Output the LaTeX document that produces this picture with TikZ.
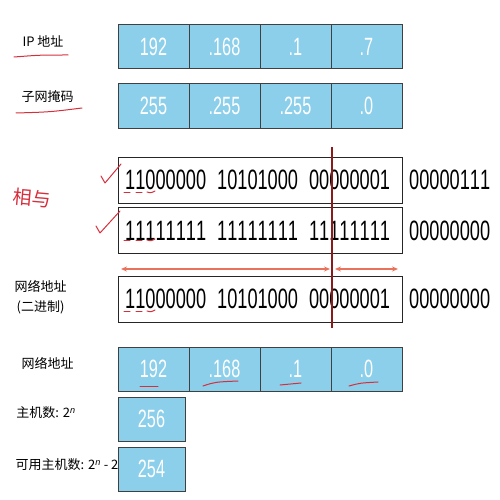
\documentclass[tikz,border=0pt]{standalone}
\usepackage{fontspec}
\setmainfont{Liberation Sans}
\newfontfamily\cjk{Noto Sans CJK SC}
\newfontfamily\narrowdigits[FakeStretch=0.65,Kerning=Off]{Liberation Sans}
\usetikzlibrary{arrows.meta}

\definecolor{cellblue}{HTML}{8BCFEB}
\definecolor{penred}{HTML}{D62F3C}
\definecolor{cutred}{HTML}{8B1A1A}
\definecolor{arrowred}{HTML}{E8735A}

\tikzset{
  cell/.style={draw=black!75, line width=1pt, fill=cellblue, minimum width=71pt, minimum height=44pt,
    inner sep=0pt, text=white, font=\narrowdigits\fontsize{25}{25}\selectfont},
  bitbox/.style={draw=black!85, line width=0.8pt, fill=white, minimum width=284pt, minimum height=46pt,
    inner sep=0pt, anchor=west},
  bits/.style={font=\narrowdigits\fontsize{28}{28}\selectfont, anchor=west, inner sep=0pt},
  lbl/.style={font=\cjk\fontsize{13}{13}\selectfont, inner sep=0pt},
  pen/.style={draw=penred, line width=1pt, line cap=round, line join=round},
  span/.style={draw=arrowred, line width=1.2pt, {Stealth[length=6pt,width=5pt]}-{Stealth[length=6pt,width=5pt]}}
}

\newcommand{\gap}{\hspace{11pt}}

\begin{document}
\begin{tikzpicture}[x=1pt,y=-1pt]
\useasboundingbox (0,0) rectangle (500,500);

\node[lbl] (iplbl) at (43,41) {IP 地址};
\node[lbl] (masklbl) at (47.5,97) {子网掩码};
\foreach \v [count=\i] in {192,.168,.1,.7} \node[cell] (ip\i) at (82.5+71*\i,47) {\v};
\foreach \v [count=\i] in {255,.255,.255,.0} \node[cell] (mask\i) at (82.5+71*\i,106) {\v};

\node[bitbox] (ipbits) at (118,180) {};
\node[bitbox] (maskbits) at (118,230.5) {};
\node[bitbox] (netbits) at (118,299) {};
\node[bits] (ipb) at (125,180) {11000000\gap10101000\gap00000001};
\node[bits] (maskb) at (125,230.5) {11111111\gap11111111\gap11111111};
\node[bits] (netb) at (125,299) {11000000\gap10101000\gap00000001};
\node[bits] (iphost) at (409,180) {00000111};
\node[bits] (maskhost) at (409,230.5) {00000000};
\node[bits] (nethost) at (409,299) {00000000};
\node[lbl, align=center, font=\cjk\fontsize{13}{20}\selectfont] (netlbl) at (40.5,297) {网络地址\\(二进制)};

\coordinate (netl) at (121,269); \coordinate (netr) at (330,269);
\coordinate (hostl) at (335,269); \coordinate (hostr) at (398,269);
\draw[span] (netl) -- (netr);
\draw[span] (hostl) -- (hostr);
\coordinate (cuttop) at (332,147); \coordinate (cutbot) at (332,328);
\draw[cutred, line width=1.5pt] (cuttop) -- (cutbot);

\node[lbl] (netaddrlbl) at (47.5,363) {网络地址};
\foreach \v [count=\i] in {192,.168,.1,.0} \node[cell] (net\i) at (82.5+71*\i,369) {\v};
\node[lbl] (hostlbl) at (46,413) {主机数: 2\textsuperscript{\rmfamily\itshape n}};
\node[cell, minimum width=67pt] (hosts) at (151.5,419) {256};
\node[lbl] (usablelbl) at (67,465) {可用主机数: 2\textsuperscript{\rmfamily\itshape n} - 2};
\node[cell, minimum width=67pt] (usable) at (151.5,469) {254};

\draw[pen] (14,57) .. controls (40,55) .. (68,55);
\draw[pen] (16,113) .. controls (50,112) .. (82,108);
\draw[pen] (101,176) -- (105,183) -- (121,164);
\draw[pen] (96,226) -- (100,233) -- (120,211);
\node[font=\cjk\fontsize{19}{19}\selectfont, text=penred, rotate=-5] (andnote) at (32,198) {相与};
\foreach \y in {192,240,311} {
  \draw[pen] (124,\y) -- (130,\y);
  \draw[pen] (136,\y) -- (142,\y);
  \draw[pen] (147,\y) .. controls (151,\y+1) .. (155,\y-1);
}
\draw[pen] (140,386) -- (158,386);
\draw[pen] (203,386) .. controls (215,382) .. (238,381);
\draw[pen] (280,385) -- (301,383);
\draw[pen] (349,386) .. controls (360,383) .. (378,382);
\end{tikzpicture}
\end{document}
